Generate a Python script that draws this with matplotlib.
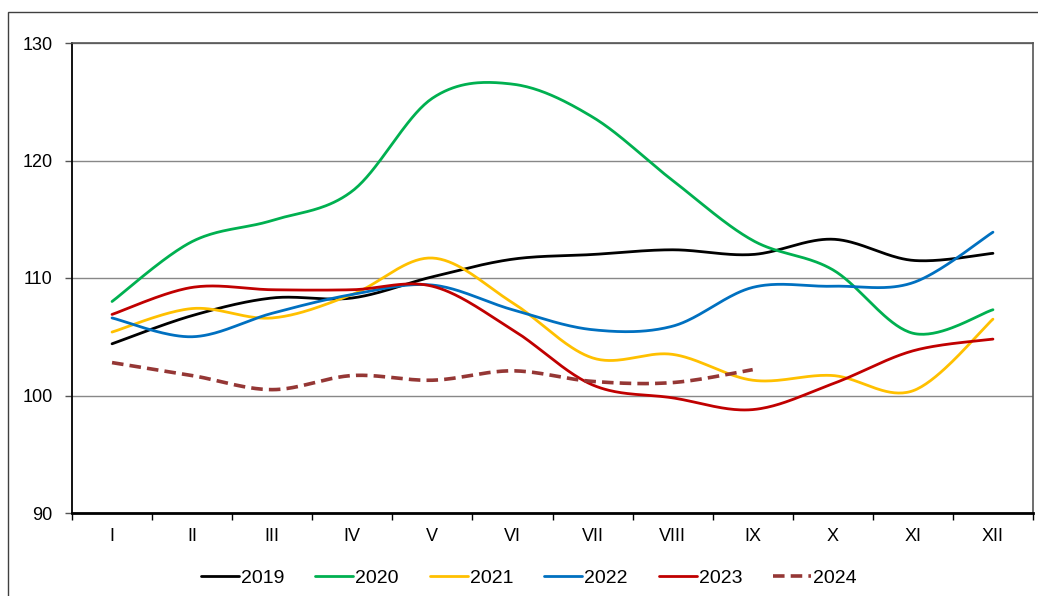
import numpy as np
import matplotlib
matplotlib.use("Agg")
import matplotlib.pyplot as plt
from matplotlib.patches import Rectangle

months = ["I", "II", "III", "IV", "V", "VI", "VII", "VIII", "IX", "X", "XI", "XII"]
y2019 = [104.4, 106.8, 108.3, 108.3, 110.1, 111.6, 112.0, 112.4, 112.0, 113.3, 111.5, 112.1]
y2020 = [108.0, 113.1, 114.9, 117.4, 125.3, 126.5, 123.7, 118.3, 113.2, 110.7, 105.3, 107.3]
y2021 = [105.4, 107.4, 106.6, 108.6, 111.7, 107.9, 103.2, 103.5, 101.3, 101.7, 100.4, 106.5]
y2022 = [106.6, 105.0, 107.0, 108.6, 109.4, 107.3, 105.6, 105.9, 109.2, 109.3, 109.6, 113.9]
y2023 = [106.9, 109.2, 109.0, 109.0, 109.3, 105.6, 100.9, 99.8, 98.8, 101.0, 103.8, 104.8]
y2024 = [102.8, 101.7, 100.5, 101.7, 101.3, 102.1, 101.2, 101.1, 102.2]

series = [("2019", y2019, "#000000", "-"),
          ("2020", y2020, "#00B050", "-"),
          ("2021", y2021, "#FFC000", "-"),
          ("2022", y2022, "#0070C0", "-"),
          ("2023", y2023, "#C00000", "-"),
          ("2024", y2024, "#953735", "--")]

def smooth(xs, ys, n=40):
    P = np.column_stack([xs, ys]).astype(float)
    m = len(P)
    out = [P[0]]
    for i in range(m - 1):
        p0 = P[i - 1] if i > 0 else P[i]
        p1 = P[i]
        p2 = P[i + 1]
        p3 = P[i + 2] if i + 2 < m else P[i + 1]
        c1 = p1 + (p2 - p0) / 6.0
        c2 = p2 - (p3 - p1) / 6.0
        t = np.linspace(0, 1, n)[1:, None]
        seg = ((1 - t) ** 3) * p1 + 3 * ((1 - t) ** 2) * t * c1 + 3 * (1 - t) * t ** 2 * c2 + t ** 3 * p2
        out.extend(seg)
    out = np.array(out)
    return out[:, 0], out[:, 1]

plt.rcParams['font.family'] = ['Liberation Sans', 'DejaVu Sans']

W, H = 1038, 596
fig = plt.figure(figsize=(W / 100, H / 100), dpi=100)
fig.patch.set_facecolor("white")

# outer chart border
fig.patches.append(Rectangle((8 / W, -0.05), 1.2, (596 - 12.5) / H + 0.05,
                             transform=fig.transFigure, fill=False,
                             edgecolor="#404040", lw=1.0))

ax = fig.add_axes([72 / W, (596 - 513) / H, (1033 - 72) / W, (513 - 43) / H])

for name, ys, col, ls in series:
    xs = np.arange(len(ys))
    sx, sy = smooth(xs, ys)
    if ls == "--":
        ax.plot(sx, sy, color=col, lw=2.6, linestyle=(0, (3.2, 1.7)), label=name,
                solid_capstyle="butt", dash_capstyle="butt")
    else:
        ax.plot(sx, sy, color=col, lw=2.0, label=name, solid_capstyle="round")

ax.set_xlim(-0.5, 11.5)
ax.set_ylim(90, 130)
ax.set_yticks([90, 100, 110, 120, 130])
ax.set_xticks(np.arange(-0.5, 12, 1))
ax.set_xticklabels([])
ax.set_xticks(np.arange(12), minor=True)
ax.set_xticklabels(months, minor=True)
ax.tick_params(axis="x", which="major", length=5, width=1, direction="out", color="black")
ax.tick_params(axis="x", which="minor", length=0, pad=11, labelsize=13)
ax.tick_params(axis="y", length=5, width=1, direction="out", color="#555555", pad=9, labelsize=13)

ax.grid(axis="y", color="#888888", lw=1.0)
ax.set_axisbelow(True)
for s in ["top", "right"]:
    ax.spines[s].set_color("#555555")
    ax.spines[s].set_linewidth(1.2)
ax.spines["left"].set_color("black")
ax.spines["left"].set_linewidth(1.3)
ax.spines["bottom"].set_color("black")
ax.spines["bottom"].set_linewidth(2.0)

leg = fig.legend(loc="center", bbox_to_anchor=(529 / W, 1 - 578 / H), ncol=6,
                 frameon=False, fontsize=14, handlelength=1.95, handletextpad=0.1,
                 columnspacing=1.6, borderpad=0)

fig.savefig("out.png", dpi=100, facecolor="white")
